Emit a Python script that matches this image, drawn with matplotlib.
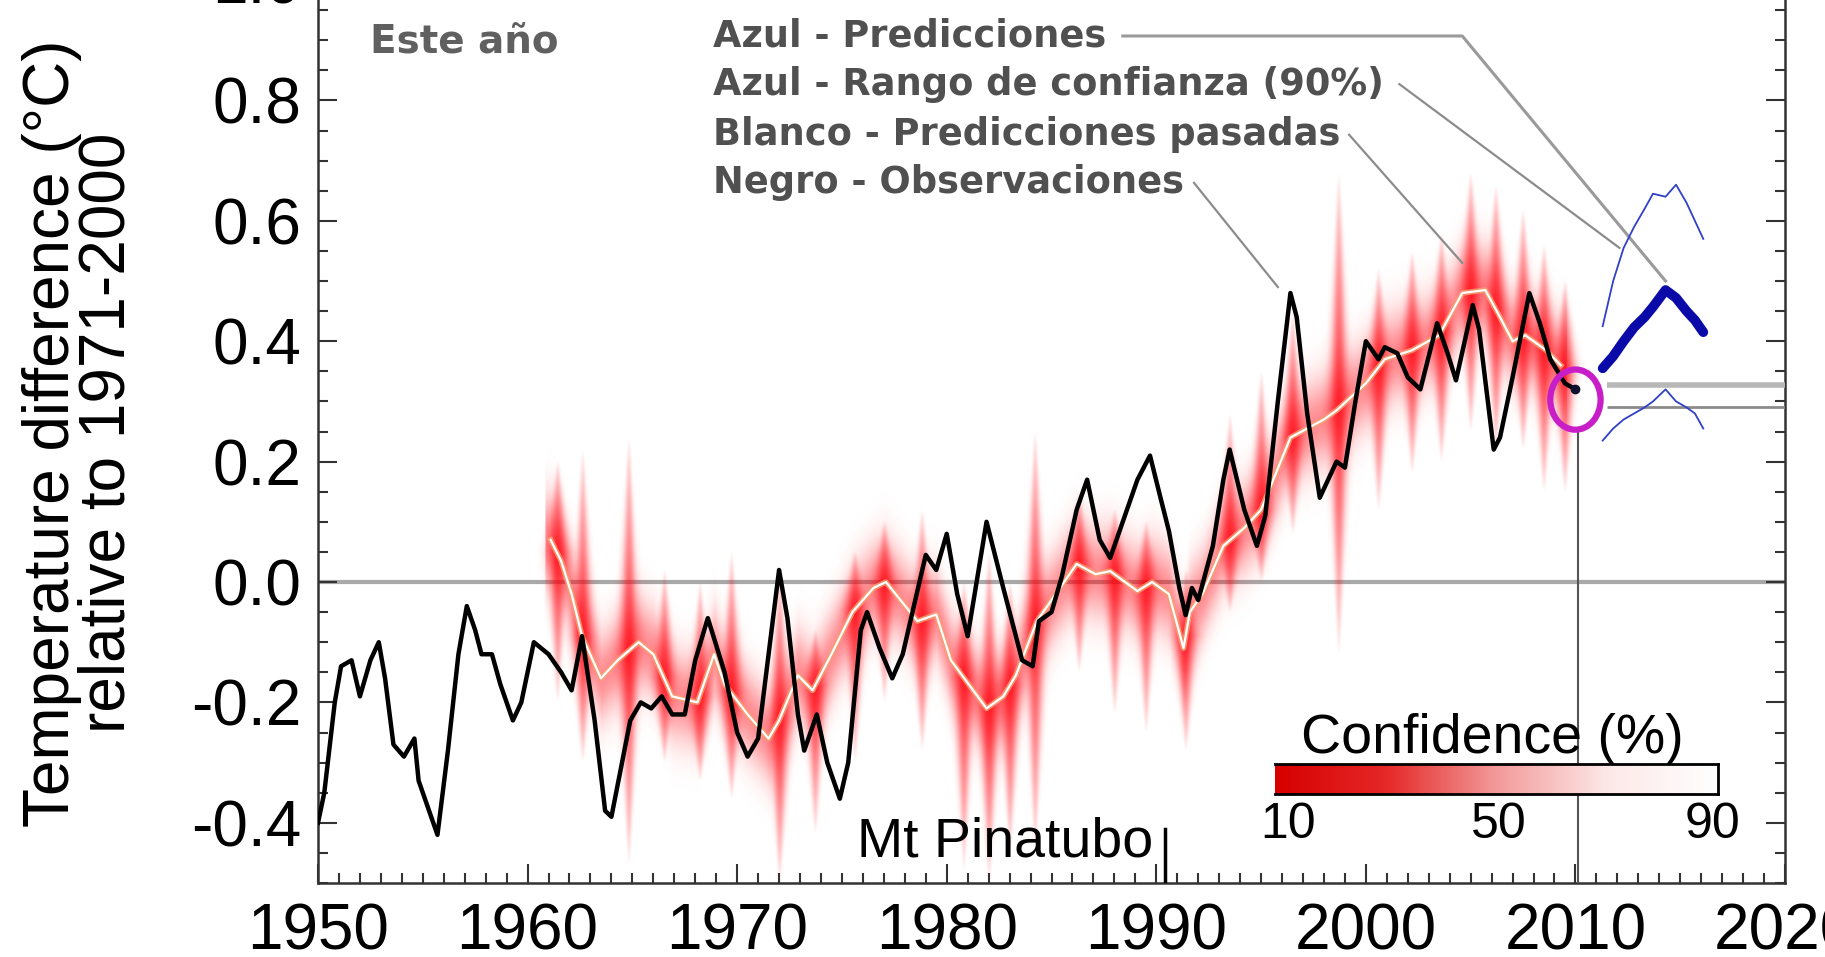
import numpy as np
import matplotlib
matplotlib.use('Agg')
import matplotlib.pyplot as plt
from matplotlib.patches import Ellipse
from matplotlib.ticker import MultipleLocator, FormatStrFormatter
from matplotlib.colors import LinearSegmentedColormap

plt.rcParams['font.family'] = ['Liberation Sans', 'DejaVu Sans']
plt.rcParams['axes.unicode_minus'] = False

# observations (black line)
obs_year = [1950.0, 1950.3, 1950.8, 1951.1, 1951.6, 1952.0, 1952.5, 1952.9, 1953.2, 1953.6,
            1954.1, 1954.6, 1954.8, 1955.3, 1955.7, 1956.2, 1956.7, 1957.1, 1957.5, 1957.8,
            1958.3, 1958.7, 1959.3, 1959.7, 1960.3, 1961.0, 1961.6, 1962.1, 1962.6, 1963.2,
            1963.7, 1964.0, 1964.9, 1965.4, 1965.9, 1966.4, 1966.9, 1967.5, 1968.0, 1968.6,
            1969.4, 1970.0, 1970.5, 1971.0, 1971.5, 1972.0, 1972.4, 1972.9, 1973.2, 1973.8,
            1974.3, 1974.9, 1975.3, 1975.9, 1976.2, 1976.8, 1977.4, 1977.9, 1978.7, 1979.0,
            1979.5, 1980.0, 1980.5, 1981.0, 1981.9, 1982.7, 1983.6, 1984.1, 1984.4, 1985.0,
            1985.5, 1986.2, 1986.7, 1987.3, 1987.8, 1988.4, 1989.1, 1989.7, 1990.2, 1990.6,
            1991.1, 1991.4, 1991.7, 1992.0, 1992.7, 1993.2, 1993.5, 1994.2, 1994.8, 1995.2,
            1995.8, 1996.4, 1996.7, 1997.2, 1997.8, 1998.6, 1999.0, 1999.5, 2000.0, 2000.6,
            2000.9, 2001.5, 2002.0, 2002.6, 2003.4, 2003.9, 2004.3, 2005.1, 2005.4, 2006.1,
            2006.4, 2007.0, 2007.8, 2008.3, 2008.8, 2009.5, 2010.0]
obs_temp = [-0.40, -0.35, -0.20, -0.14, -0.13, -0.19, -0.13, -0.10, -0.16, -0.27,
            -0.29, -0.26, -0.33, -0.38, -0.42, -0.28, -0.12, -0.04, -0.08, -0.12,
            -0.12, -0.17, -0.23, -0.20, -0.10, -0.12, -0.15, -0.18, -0.09, -0.23,
            -0.38, -0.39, -0.23, -0.20, -0.21, -0.19, -0.22, -0.22, -0.13, -0.06,
            -0.15, -0.25, -0.29, -0.26, -0.12, 0.02, -0.06, -0.22, -0.28, -0.22,
            -0.30, -0.36, -0.30, -0.08, -0.05, -0.11, -0.16, -0.12, 0.00, 0.045,
            0.02, 0.08, -0.02, -0.09, 0.10, -0.01, -0.13, -0.14, -0.065, -0.05,
            0.01, 0.12, 0.17, 0.07, 0.04, 0.10, 0.17, 0.21, 0.14, 0.085,
            -0.01, -0.055, -0.01, -0.03, 0.06, 0.17, 0.22, 0.12, 0.06, 0.11,
            0.30, 0.48, 0.44, 0.28, 0.14, 0.20, 0.19, 0.30, 0.40, 0.37,
            0.39, 0.38, 0.34, 0.32, 0.43, 0.38, 0.335, 0.46, 0.42, 0.22,
            0.24, 0.34, 0.48, 0.43, 0.37, 0.33, 0.32]

# past predictions (white line)
hind_year = [1961.1, 1961.6, 1962.1, 1962.6, 1963.5, 1964.3, 1965.3, 1966.0, 1966.9, 1968.1,
             1968.9, 1969.4, 1970.5, 1971.5, 1972.0, 1972.9, 1973.6, 1974.5, 1975.5, 1976.5,
             1977.1, 1978.6, 1979.5, 1980.2, 1981.9, 1982.7, 1983.3, 1984.3, 1985.4, 1986.2,
             1987.1, 1987.8, 1989.1, 1989.8, 1990.6, 1991.3, 1991.6, 1992.2, 1993.2, 1994.2,
             1995.0, 1996.4, 1998.0, 1998.6, 2000.0, 2000.9, 2002.2, 2003.5, 2004.6, 2005.7,
             2006.4, 2007.0, 2007.6, 2008.6, 2009.3]
hind_temp = [0.07, 0.035, -0.02, -0.09, -0.16, -0.13, -0.10, -0.12, -0.19, -0.20,
             -0.12, -0.17, -0.22, -0.26, -0.23, -0.155, -0.18, -0.12, -0.05, -0.01,
             0.00, -0.065, -0.054, -0.13, -0.21, -0.19, -0.155, -0.065, -0.01, 0.03,
             0.013, 0.018, -0.015, 0.00, -0.02, -0.11, -0.05, -0.02, 0.06, 0.09,
             0.12, 0.24, 0.27, 0.285, 0.33, 0.37, 0.385, 0.41, 0.48, 0.485,
             0.44, 0.40, 0.41, 0.385, 0.36]

# red confidence streaks of the past predictions
streak_year = [1961.4, 1962.6, 1964.8, 1966.5, 1968.2, 1969.7, 1972.0, 1973.7, 1975.6, 1977.0,
               1978.8, 1980.8, 1982.0, 1983.0, 1984.2, 1986.3, 1988.0, 1989.5, 1991.4, 1993.5,
               1995.0, 1996.5, 1998.7, 2000.6, 2002.2, 2003.6, 2005.0, 2006.2, 2007.5, 2008.5,
               2009.5]
streak_hi = [0.20, 0.22, 0.24, 0.02, 0.00, 0.05, 0.02, -0.08, 0.05, 0.10,
             0.12, 0.00, 0.05, 0.00, 0.25, 0.15, 0.12, 0.10, 0.02, 0.28,
             0.35, 0.45, 0.68, 0.52, 0.55, 0.58, 0.68, 0.66, 0.62, 0.56,
             0.50]
streak_lo = [-0.20, -0.30, -0.47, -0.30, -0.33, -0.36, -0.50, -0.42, -0.30, -0.20,
             -0.28, -0.48, -0.50, -0.45, -0.45, -0.15, -0.22, -0.25, -0.28, -0.05,
             0.00, 0.08, -0.12, 0.12, 0.18, 0.20, 0.25, 0.22, 0.22, 0.15,
             0.15]

# new forecast (blue)
fc_year = [2011.3, 2011.8, 2012.3, 2012.8, 2013.3, 2013.7, 2014.3, 2014.8, 2015.3, 2015.7, 2016.1]
fc_mean = [0.355, 0.375, 0.40, 0.423, 0.44, 0.457, 0.485, 0.472, 0.45, 0.435, 0.415]
fc_hi = [0.425, 0.50, 0.555, 0.59, 0.62, 0.645, 0.64, 0.66, 0.63, 0.60, 0.57]
fc_lo = [0.235, 0.255, 0.27, 0.28, 0.29, 0.30, 0.32, 0.30, 0.29, 0.28, 0.255]

conf_ticks = [10, 50, 90]

fig = plt.figure(figsize=(18.25, 9.57), dpi=100)
ax = fig.add_axes([0.17425, 0.07732, 0.80384, 0.94357])

# red shading built from the hindcast line and the streaks
xs = np.linspace(1960, 2011, 1100)
ys = np.linspace(-0.5, 0.8, 650)
X, Y = np.meshgrid(xs, ys)
c = np.interp(xs, hind_year, hind_temp)[None, :]
inside = ((X >= hind_year[0] - 0.3) & (X <= hind_year[-1] + 0.3)).astype(float)
alpha = 0.45 * np.exp(-((Y - c) / 0.07) ** 2) * inside
for yr, hi, lo in zip(streak_year, streak_hi, streak_lo):
    cc = np.interp(yr, hind_year, hind_temp)
    d = np.where(Y >= cc, (Y - cc) / max(hi - cc, 0.03), (cc - Y) / max(cc - lo, 0.03))
    d = np.clip(d, 0, 1)
    w = 0.4 * (1 - d) + 0.06
    a = 0.8 * (1 - d) ** 0.8 * np.exp(-((X - yr) / w) ** 2)
    alpha = 1 - (1 - alpha) * (1 - a)
rgba = np.zeros(X.shape + (4,))
rgba[..., 0] = 1.0
rgba[..., 1] = 0.0
rgba[..., 2] = 0.05
rgba[..., 3] = np.clip(alpha, 0, 1)

ax.axhline(0, color='#a9a9a9', lw=3, zorder=1)
ax.imshow(rgba, extent=(xs[0], xs[-1], ys[0], ys[-1]), origin='lower',
          aspect='auto', interpolation='bilinear', zorder=2)

ax.plot(hind_year, hind_temp, color='#f4a070', lw=4, alpha=0.8, zorder=3)
ax.plot(hind_year, hind_temp, color='white', lw=1.6, zorder=3.1)
ax.plot(obs_year, obs_temp, color='black', lw=3.2, zorder=4)

ax.plot(fc_year, fc_hi, color='#3040c8', lw=1.3, zorder=4)
ax.plot(fc_year, fc_lo, color='#3040c8', lw=1.3, zorder=4)
ax.plot(fc_year, fc_mean, color='#0a0aa8', lw=7, solid_capstyle='round', zorder=5)

# start of forecast
ax.plot([2010.1, 2010.1], [-0.5, 0.25], color='#555555', lw=1.5, zorder=3)
ax.hlines([0.328, 0.29], 2011.5, 2020, colors=['#b8b8b8', '#8a8a8a'], lw=[4, 2], zorder=3)
ax.add_patch(Ellipse((2010.0, 0.303), 2.4, 0.1, fill=False, ec='#c81ec8', lw=4.5, zorder=6))
ax.plot([obs_year[-1]], [obs_temp[-1]], 'o', color='#101030', ms=6, zorder=6)

# leader lines from the legend text
lc = '#8c8c8c'
ax.plot([1988.4, 2004.6, fc_year[6]], [0.907, 0.907, fc_mean[6] + 0.015], color='#9a9a9a', lw=2.2, zorder=3)
ax.plot([2001.6, fc_year[2] - 0.2], [0.827, fc_hi[2]], color=lc, lw=1.6, zorder=3)
ax.plot([1999.2, hind_year[48]], [0.743, hind_temp[48] + 0.05], color=lc, lw=1.6, zorder=3)
ax.plot([1991.8, obs_year[91] - 0.6], [0.663, obs_temp[91] + 0.01], color=lc, lw=1.6, zorder=3)

legend_txt = ['Azul - Predicciones', 'Azul - Rango de confianza (90%)',
              'Blanco - Predicciones pasadas', 'Negro - Observaciones']
for txt, yy in zip(legend_txt, [0.907, 0.827, 0.743, 0.663]):
    ax.text(1968.85, yy, txt, ha='left', va='center', fontsize=26.5, color='#505050',
            family='DejaVu Sans', weight='bold', zorder=7)
ax.text(1952.5, 0.897, 'Este año', ha='left', va='center', fontsize=28, color='#606060',
        family='DejaVu Sans', weight='bold', zorder=7)

# Pinatubo
ax.text(1989.85, -0.433, 'Mt Pinatubo', ha='right', va='center', fontsize=40, zorder=7)
ax.plot([1990.4, 1990.4], [-0.41, -0.5], color='black', lw=2.5, zorder=7)

# confidence bar
cax = ax.inset_axes([1995.66, -0.352, 21.14, 0.049], transform=ax.transData)
cmap = LinearSegmentedColormap.from_list('conf', ['#d60000', '#e52828', '#f39a9a', '#fde8e8', '#ffffff'])
cax.imshow(np.linspace(0, 1, 256)[None, :], cmap=cmap, aspect='auto')
cax.set_xticks([])
cax.set_yticks([])
for side in ['top', 'right', 'bottom']:
    cax.spines[side].set_linewidth(2)
cax.spines['left'].set_visible(False)
ax.text(2006.06, -0.26, 'Confidence (%)', ha='center', va='center', fontsize=40, zorder=7)
for t, xx in zip(conf_ticks, [1996.3, 2006.35, 2016.55]):
    ax.text(xx, -0.404, str(t), ha='center', va='center', fontsize=36, zorder=7)

ax.set_xlim(1950, 2020)
ax.set_ylim(-0.5, 1.0)
ax.xaxis.set_major_locator(MultipleLocator(10))
ax.xaxis.set_minor_locator(MultipleLocator(1))
ax.yaxis.set_major_locator(MultipleLocator(0.2))
ax.yaxis.set_minor_locator(MultipleLocator(0.05))
ax.yaxis.set_major_formatter(FormatStrFormatter('%.1f'))
ax.tick_params(which='both', direction='in', right=True, top=True, width=1.5, color='#333333')
ax.tick_params(which='major', length=14, labelsize=46)
ax.tick_params(which='minor', length=7)
ax.tick_params(axis='x', pad=14)
ax.tick_params(axis='y', pad=12)
for s in ax.spines.values():
    s.set_linewidth(1.8)
    s.set_color('#333333')

fig.text(80 / 1825, 1 - 433 / 957, 'Temperature difference (°C)\nrelative to 1971-2000',
         rotation=90, ha='center', va='center', fontsize=46, linespacing=0.9)

fig.savefig('out.png', dpi=100)
